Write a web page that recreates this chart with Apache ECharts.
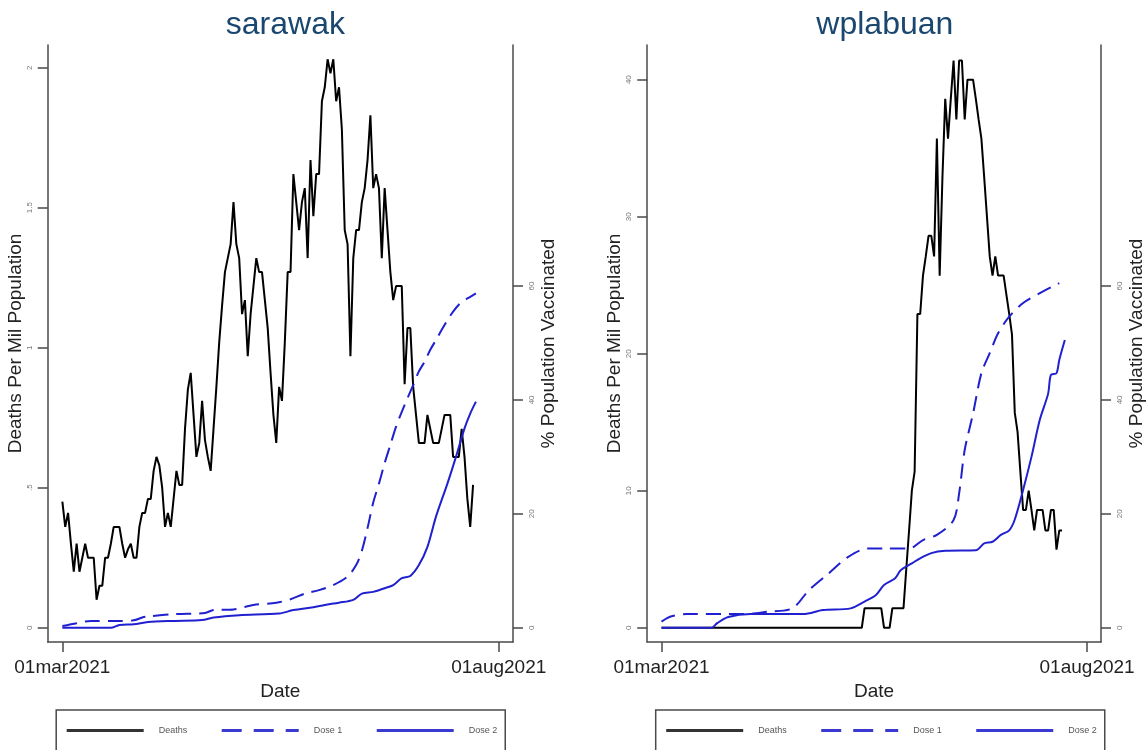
<!DOCTYPE html>
<html>
<head>
<meta charset="utf-8">
<script src="https://cdn.jsdelivr.net/npm/echarts@6/dist/echarts.min.js"></script>
<style>
  html, body { margin: 0; padding: 0; background: #ffffff; }
  #chart { width: 1147px; height: 750px; }
</style>
</head>
<body>
<div id="chart"></div>
<script>
// ---------------- data ----------------
const panelTitles = ['sarawak', 'wplabuan'];
const seriesNames = ['Deaths', 'Dose 1', 'Dose 2'];

// x axis: days since 01mar2021
const xTickDays = [0, 153];
const xTickLabels = ['01mar2021', '01aug2021'];

// left axis ticks
const sarawakDeathTicks = [0, 0.5, 1, 1.5, 2];
const sarawakDeathTickLabels = ['0', '.5', '1', '1.5', '2'];
const wplabuanDeathTicks = [0, 10, 20, 30, 40];
const wplabuanDeathTickLabels = ['0', '10', '20', '30', '40'];
// right axis ticks
const vaxTicks = [0, 20, 40, 60];
const vaxTickLabels = ['0', '20', '40', '60'];

// daily deaths per million (day 0 = 01mar2021)
const sarawakDeaths = [
  0.45,0.36,0.41,0.30,0.20,0.30,0.20,0.25,0.30,0.25,
  0.25,0.25,0.10,0.15,0.15,0.25,0.25,0.30,0.36,0.36,
  0.36,0.30,0.25,0.28,0.30,0.25,0.25,0.36,0.41,0.41,
  0.46,0.46,0.56,0.61,0.58,0.50,0.36,0.41,0.36,0.46,
  0.56,0.51,0.51,0.71,0.85,0.91,0.76,0.61,0.66,0.81,
  0.67,0.61,0.56,0.71,0.86,1.02,1.15,1.27,1.32,1.37,
  1.52,1.37,1.32,1.12,1.17,0.97,1.12,1.22,1.32,1.27,
  1.27,1.17,1.07,0.91,0.76,0.66,0.86,0.81,1.02,1.27,
  1.27,1.62,1.52,1.42,1.52,1.57,1.32,1.67,1.47,1.62,
  1.62,1.88,1.93,2.03,1.98,2.03,1.88,1.93,1.78,1.42,
  1.37,0.97,1.32,1.42,1.42,1.52,1.57,1.67,1.83,1.57,
  1.62,1.57,1.32,1.57,1.42,1.27,1.17,1.22,1.22,1.22,
  0.87,1.07,1.07,0.86,0.76,0.66,0.66,0.66,0.76,0.71,
  0.66,0.66,0.66,0.71,0.76,0.76,0.76,0.61,0.61,0.61,
  0.71,0.61,0.46,0.36,0.51
];
const wplabuanDeaths = [
  0,0,0,0,0,0,0,0,0,0,
  0,0,0,0,0,0,0,0,0,0,
  0,0,0,0,0,0,0,0,0,0,
  0,0,0,0,0,0,0,0,0,0,
  0,0,0,0,0,0,0,0,0,0,
  0,0,0,0,0,0,0,0,0,0,
  0,0,0,0,0,0,0,0,0,0,
  0,0,0,1.43,1.43,1.43,1.43,1.43,1.43,1.43,
  0,0,0,1.43,1.43,1.43,1.43,1.43,4.3,7.1,
  10.0,11.4,22.9,22.9,25.7,27.1,28.6,28.6,27.1,35.7,
  25.7,32.9,38.6,35.7,38.6,41.4,37.1,41.4,41.4,37.1,
  40.0,40.0,40.0,38.6,37.1,35.7,32.9,30.0,27.1,25.7,
  27.1,25.7,25.7,25.7,24.3,22.9,21.4,15.7,14.3,11.4,
  8.6,8.6,10.0,8.6,7.1,8.6,8.6,8.6,7.1,7.1,
  8.6,8.6,5.7,7.1,7.1
];

// % population vaccinated (sampled days)
const sarawakDose1Days = [0,5,10,20,25,28,30,40,50,53,60,67,75,80,85,90,95,100,103,105,107,109,111,113,115,117,119,121,123,125,127,129,131,133,135,137,139,141,143,145];
const sarawakDose1 =     [0.3,0.8,1.2,1.2,1.3,1.8,2.0,2.4,2.6,3.1,3.2,4.0,4.4,5.0,6.0,6.6,7.5,9.0,11.0,13.5,17.5,22.0,25.3,28.9,32.1,35.3,37.9,40.3,42.6,45.0,46.7,48.8,50.5,52.3,54.0,55.5,56.7,57.5,58.1,58.7];
const sarawakDose2Days = [0,17,20,25,30,39,49,53,62,76,81,88,92,97,102,105,109,114,116,119,122,125,128,131,135,138,141,143,145];
const sarawakDose2 =     [0,0,0.5,0.6,1.0,1.2,1.35,1.8,2.2,2.5,3.1,3.6,4.0,4.4,4.9,6.0,6.3,7.1,7.5,8.7,9.1,11.0,14.2,19.5,25.3,30.0,35.0,37.6,39.7];

const wplabuanDose1Days = [0,2,4,9,30,38,47,53,60,67,74,80,89,94,99,105,107,109,112,115,118,121,125,130,137,143];
const wplabuanDose1 =     [1.07,1.7,2.06,2.4,2.4,2.8,3.4,6.6,9.5,12.4,13.9,13.9,13.9,15.4,16.3,18.9,23.6,31.2,37.6,44.7,48.2,51.7,54.6,57.0,59.0,60.5];
const wplabuanDose2Days = [0,18,20,24,32,51,58,68,73,77,80,84,86,90,93,97,102,113,116,119,122,125,127,130,133,136,139,140,142,143,145];
const wplabuanDose2 =     [0,0,0.8,1.9,2.4,2.4,3.1,3.4,4.6,5.7,7.5,8.7,10.1,11.3,12.2,13.1,13.5,13.6,14.8,15.1,16.3,17.1,19.0,24.2,30.0,36.5,41.1,44.4,44.7,47.0,50.5];

// ---------------- chart ----------------
const FONT = "'Liberation Sans', Arial, sans-serif";
const AXIS_COLOR = '#4a4a4a';
const BLUE = '#2020d0';

function pairs(days, vals) { return vals.map((v, i) => [days[i], v]); }
function daily(vals) { return vals.map((v, i) => [i, v]); }
function labeller(ticks, labels) {
  return v => { const i = ticks.findIndex(t => Math.abs(t - v) < 1e-9); return i >= 0 ? labels[i] : ''; };
}

const panels = [
  { left: 47.7, deaths: sarawakDeaths, d1d: sarawakDose1Days, d1: sarawakDose1, d2d: sarawakDose2Days, d2: sarawakDose2,
    dMin: -0.051, dMax: 2.081, dTicks: sarawakDeathTicks, dLabels: sarawakDeathTickLabels },
  { left: 647.2, deaths: wplabuanDeaths, d1d: wplabuanDose1Days, d1: wplabuanDose1, d2d: wplabuanDose2Days, d2: wplabuanDose2,
    dMin: -1.04, dMax: 42.53, dTicks: wplabuanDeathTicks, dLabels: wplabuanDeathTickLabels }
];
const GRID_W = 465.3, GRID_TOP = 45, GRID_H = 597;

const legendData = [
  { name: 'Deaths', lineStyle: { color: '#333', width: 3 } },
  { name: 'Dose 1', lineStyle: { color: '#3a3ad0', width: 3, type: [20, 12] } },
  { name: 'Dose 2', lineStyle: { color: '#3a3ad0', width: 3 } }
];

const option = {
  animation: false,
  backgroundColor: '#ffffff',
  textStyle: { fontFamily: FONT },
  title: panels.map((p, i) => ({
    text: panelTitles[i],
    left: p.left + GRID_W / 2,
    textAlign: 'center',
    top: 4,
    textStyle: { fontFamily: FONT, fontSize: 32, fontWeight: 'normal', color: '#1a476f' }
  })),
  grid: panels.map(p => ({ left: p.left, top: GRID_TOP, width: GRID_W, height: GRID_H, containLabel: false })),
  legend: panels.map(p => ({
    data: legendData,
    left: p.left + 8.5,
    top: 710,
    orient: 'horizontal',
    itemWidth: 77,
    itemHeight: 14,
    itemGap: 33,
    padding: [15, 8, 40, 9],
    borderColor: '#4a4a4a',
    borderWidth: 1.5,
    itemStyle: { color: 'rgba(0,0,0,0)', opacity: 0, borderWidth: 0 },
    textStyle: { fontFamily: FONT, fontSize: 9, color: '#555', padding: [0, 0, 0, 10] }
  })),
  xAxis: panels.map((p, i) => ({
    type: 'value', gridIndex: i, min: -5.14, max: 158.0,
    name: 'Date', nameLocation: 'middle', nameGap: 32,
    nameTextStyle: { fontFamily: FONT, fontSize: 19, color: '#222' },
    axisLine: { show: true, onZero: false, lineStyle: { color: AXIS_COLOR, width: 1.5 } },
    axisTick: { show: true, customValues: xTickDays, length: 10, lineStyle: { color: AXIS_COLOR, width: 1.5 } },
    axisLabel: { customValues: xTickDays, formatter: labeller(xTickDays, xTickLabels),
      fontFamily: FONT, fontSize: 19, color: '#222', margin: 16 },
    splitLine: { show: false }
  })),
  yAxis: [].concat(...panels.map((p, i) => [
    {
      type: 'value', gridIndex: i, position: 'left', min: p.dMin, max: p.dMax,
      name: 'Deaths Per Mil Population', nameLocation: 'middle', nameGap: 14,
      nameTextStyle: { fontFamily: FONT, fontSize: 19, color: '#222' },
      axisLine: { show: true, onZero: false, lineStyle: { color: AXIS_COLOR, width: 1.5 } },
      axisTick: { show: true, customValues: p.dTicks, length: 10, lineStyle: { color: AXIS_COLOR, width: 1.5 } },
      axisLabel: { customValues: p.dTicks, formatter: labeller(p.dTicks, p.dLabels), rotate: 90,
        fontFamily: FONT, fontSize: 8, color: '#777', margin: 14 },
      splitLine: { show: false }
    },
    {
      type: 'value', gridIndex: i, position: 'right', min: -2.5, max: 102.3,
      name: '% Population Vaccinated', nameLocation: 'middle', nameGap: 26,
      nameTextStyle: { fontFamily: FONT, fontSize: 19, color: '#222' },
      axisLine: { show: true, onZero: false, lineStyle: { color: AXIS_COLOR, width: 1.5 } },
      axisTick: { show: true, customValues: vaxTicks, length: 10, lineStyle: { color: AXIS_COLOR, width: 1.5 } },
      axisLabel: { customValues: vaxTicks, formatter: labeller(vaxTicks, vaxTickLabels), rotate: 90,
        fontFamily: FONT, fontSize: 8, color: '#777', margin: 15 },
      splitLine: { show: false }
    }
  ])),
  series: [].concat(...panels.map((p, i) => [
    { name: 'Deaths', type: 'line', xAxisIndex: i, yAxisIndex: 2 * i, data: daily(p.deaths),
      symbol: 'none', lineStyle: { color: '#000', width: 2 }, itemStyle: { color: '#000' } },
    { name: 'Dose 1', type: 'line', xAxisIndex: i, yAxisIndex: 2 * i + 1, data: pairs(p.d1d, p.d1),
      symbol: 'none', smooth: 0.3, lineStyle: { color: BLUE, width: 2, type: [15, 8] }, itemStyle: { color: BLUE } },
    { name: 'Dose 2', type: 'line', xAxisIndex: i, yAxisIndex: 2 * i + 1, data: pairs(p.d2d, p.d2),
      symbol: 'none', smooth: 0.3, lineStyle: { color: BLUE, width: 2 }, itemStyle: { color: BLUE } }
  ]))
};

const chart = echarts.init(document.getElementById('chart'), null, { renderer: 'canvas', width: 1147, height: 750 });
chart.setOption(option);
</script>
</body>
</html>
